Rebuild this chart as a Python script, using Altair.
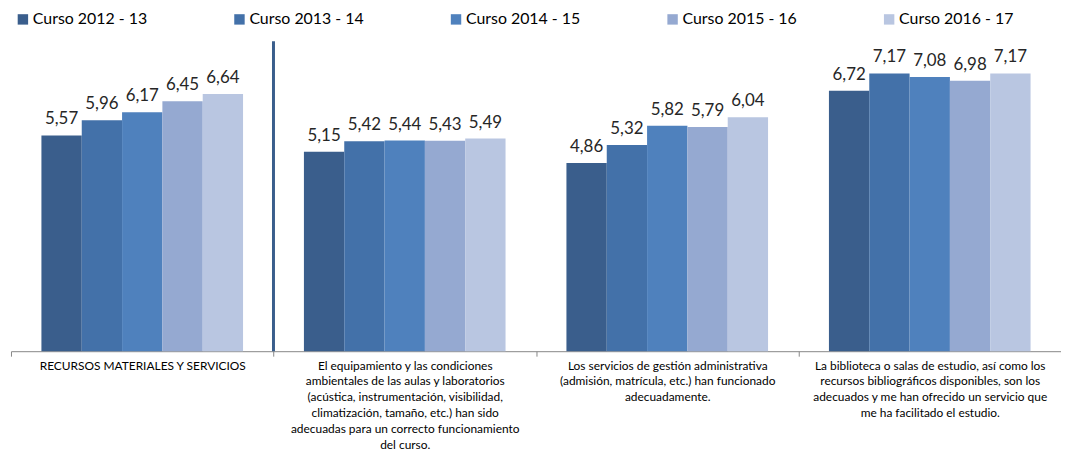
import altair as alt
import pandas as pd

categories = [
    "RECURSOS MATERIALES Y SERVICIOS",
    "El equipamiento y las condiciones|ambientales de las aulas y laboratorios|(acústica, instrumentación, visibilidad,|climatización, tamaño, etc.) han sido|adecuadas para un correcto funcionamiento|del curso.",
    "Los servicios de gestión administrativa|(admisión, matrícula, etc.) han funcionado|adecuadamente.",
    "La biblioteca o salas de estudio, así como los|recursos bibliográficos disponibles, son los|adecuados y me han ofrecido un servicio que|me ha facilitado el estudio.",
]
series = ["Curso 2012 - 13", "Curso 2013 - 14", "Curso 2014 - 15", "Curso 2015 - 16", "Curso 2016 - 17"]
v_2012_13 = [5.57, 5.15, 4.86, 6.72]
v_2013_14 = [5.96, 5.42, 5.32, 7.17]
v_2014_15 = [6.17, 5.44, 5.82, 7.08]
v_2015_16 = [6.45, 5.43, 5.79, 6.98]
v_2016_17 = [6.64, 5.49, 6.04, 7.17]
colors = ["#3A5E8C", "#4371A9", "#4F81BD", "#95A9D1", "#B9C6E1"]

all_vals = [v_2012_13, v_2013_14, v_2014_15, v_2015_16, v_2016_17]
rows = []
for s, vals in zip(series, all_vals):
    for c, v in zip(categories, vals):
        rows.append({"cat": c, "serie": s, "valor": v, "etiqueta": f"{v:.2f}".replace(".", ",")})
df = pd.DataFrame(rows)

FONT = "Lato"
W, H = 1057, 312
PO = 0.755  # outer padding of the series offset scale

xscale = alt.Scale(paddingInner=0, paddingOuter=0)
xenc = alt.X("cat:N", sort=categories, title=None, scale=xscale,
             axis=alt.Axis(labelAngle=0, labelExpr="split(datum.label, '|')",
                           labelFontSize=12, labelFont=FONT, labelColor="#000000",
                           labelLineHeight=16, labelPadding=4, labelLimit=400,
                           labelOverlap=False, labelBound=False, labelBaseline="top",
                           tickBand="extent", tickSize=5, tickColor="#868686",
                           domainColor="#868686", grid=False))
yscale = alt.Scale(domain=[0, 8])
xoff = alt.XOffset("serie:N", sort=series, scale=alt.Scale(paddingInner=0, paddingOuter=PO))

base = alt.Chart(df)
bars = base.mark_bar().encode(
    x=xenc,
    xOffset=xoff,
    y=alt.Y("valor:Q", scale=yscale, axis=None),
    color=alt.Color("serie:N", sort=series, scale=alt.Scale(domain=series, range=colors),
                    legend=alt.Legend(title=None, orient="none", legendX=4, legendY=-30,
                                      direction="horizontal", columns=5, columnPadding=84,
                                      symbolType="square", symbolSize=110, symbolStrokeWidth=0,
                                      labelFontSize=16, labelFont=FONT, labelColor="#000000",
                                      symbolOffset=0, labelOffset=2)),
)
labels = base.mark_text(baseline="bottom", dy=-7, fontSize=17, font=FONT, color="#262626").encode(
    x=alt.X("cat:N", sort=categories, scale=xscale),
    xOffset=xoff,
    y=alt.Y("valor:Q", scale=yscale),
    text="etiqueta:N",
)
sep = alt.Chart(pd.DataFrame({"cat": [categories[1]]})).mark_rule(color="#3A5E8C", strokeWidth=3).encode(
    x=alt.X("cat:N", sort=categories, scale=xscale, bandPosition=0),
    y=alt.datum(0, scale=yscale),
    y2=alt.datum(8),
)

chart = alt.layer(bars, labels, sep).properties(
    width=W, height=H,
    padding={"left": 3, "top": 32, "right": 0, "bottom": 103},
    autosize=alt.AutoSizeParams(type="none"),
).configure_view(stroke=None)

chart.save("out.html", embed_options={"renderer": "svg", "actions": False})
